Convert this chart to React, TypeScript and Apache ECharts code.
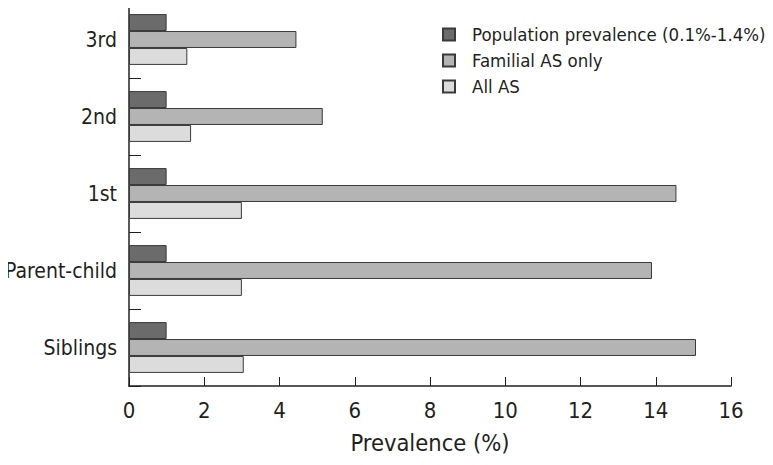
import React, { useEffect, useRef } from "react";
import * as echarts from "echarts";

const categories = ["Siblings", "Parent-child", "1st", "2nd", "3rd"];
const populationPrevalence = [1.0, 1.0, 1.0, 1.0, 1.0];
const familialASOnly = [15.07, 13.9, 14.55, 5.15, 4.45];
const allAS = [3.05, 3.0, 3.0, 1.65, 1.55];
const xTicks = [0, 16, 2];

const FONT = "'DejaVu Sans Condensed', 'Liberation Sans Narrow', sans-serif";

export default function App() {
  const ref = useRef<HTMLDivElement>(null);
  useEffect(() => {
    if (!ref.current) return;
    const chart = echarts.init(ref.current, null, { renderer: "svg" });
    const border = { borderColor: "#3a3a3a", borderWidth: 1 };
    chart.setOption({
      animation: false,
      textStyle: { fontFamily: FONT },
      legend: {
        data: ["Population prevalence (0.1%-1.4%)", "Familial AS only", "All AS"],
        orient: "vertical",
        left: 437,
        top: 20,
        itemWidth: 12,
        itemHeight: 12,
        itemGap: 7,
        icon: "rect",
        textStyle: { fontFamily: FONT, fontSize: 18.5, color: "#231f20", padding: [0, 0, 0, 12] },
      },
      grid: { left: 129, right: 42, top: 1, bottom: 79, containLabel: false, outerBoundsMode: "none" },
      xAxis: {
        type: "value",
        min: xTicks[0],
        max: xTicks[1],
        interval: xTicks[2],
        name: "Prevalence (%)",
        nameLocation: "middle",
        nameGap: 45,
        nameTextStyle: { fontFamily: FONT, fontSize: 23.5, color: "#231f20" },
        axisLine: { show: true, lineStyle: { color: "#231f20", width: 1.5 } },
        axisTick: { show: true, inside: true, length: 9, lineStyle: { color: "#231f20" } },
        axisLabel: { fontFamily: FONT, fontSize: 22, color: "#231f20", margin: 13 },
        splitLine: { show: false },
      },
      yAxis: {
        type: "category",
        data: categories,
        axisLine: { show: true, lineStyle: { color: "#231f20", width: 1.5 } },
        axisTick: { show: true, inside: true, length: 12, lineStyle: { color: "#231f20" } },
        axisLabel: { fontFamily: FONT, fontSize: 21, color: "#231f20", margin: 12 },
      },
      series: [
        {
          name: "Population prevalence (0.1%-1.4%)",
          type: "bar",
          data: populationPrevalence,
          barGap: "0%",
          barCategoryGap: "34%",
          itemStyle: { color: "#6b6b6b", ...border },
        },
        {
          name: "Familial AS only",
          type: "bar",
          data: familialASOnly,
          itemStyle: { color: "#b4b4b4", ...border },
        },
        {
          name: "All AS",
          type: "bar",
          data: allAS,
          itemStyle: { color: "#dcdcdc", ...border },
        },
      ],
    });
    return () => chart.dispose();
  }, []);
  return <div ref={ref} style={{ width: 773, height: 465, margin: -8 }} />;
}
